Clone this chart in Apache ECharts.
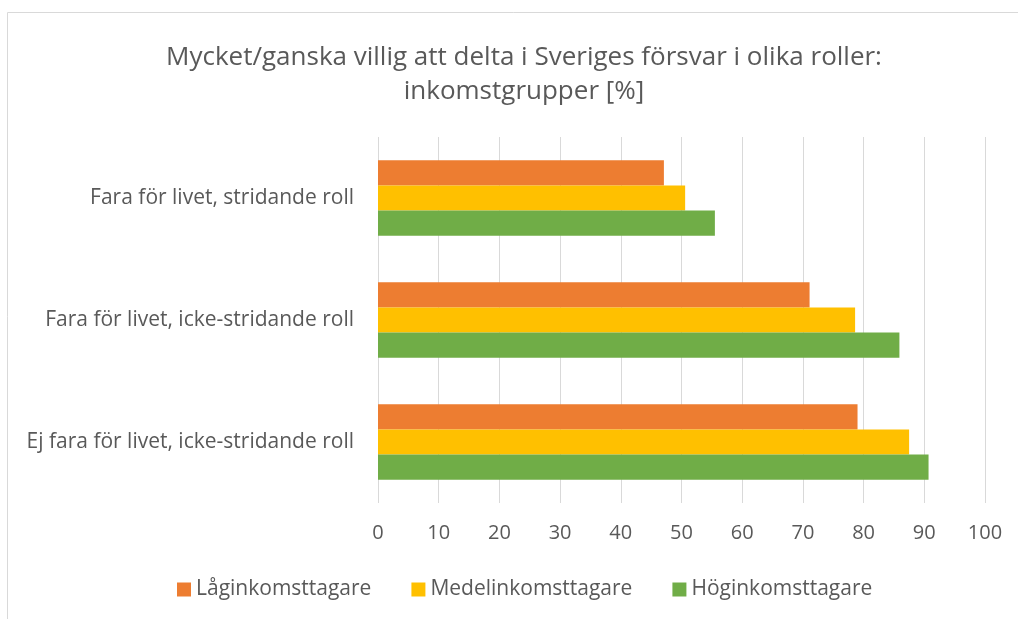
<!DOCTYPE html>
<html>
<head>
<meta charset="utf-8">
<script src="https://cdn.jsdelivr.net/npm/echarts@6/dist/echarts.min.js"></script>
<style>
  html, body { margin: 0; padding: 0; background: #fff; }
  #chart { width: 1018px; height: 619px; }
</style>
</head>
<body>
<div id="chart"></div>
<script>
  // categories listed top to bottom as in the picture
  const categories = [
    'Fara för livet, stridande roll',
    'Fara för livet, icke-stridande roll',
    'Ej fara för livet, icke-stridande roll'
  ]
  const seriesNames = ['Låginkomsttagare', 'Medelinkomsttagare', 'Höginkomsttagare']
  const lagData = [47.1, 71.1, 79.0]
  const medelData = [50.6, 78.6, 87.5]
  const hogData = [55.5, 85.9, 90.7]
  const xTicks = [0, 10, 20, 30, 40, 50, 60, 70, 80, 90, 100]

  const textColor = '#595959'
  const font = 'Open Sans'

  const chart = echarts.init(document.getElementById('chart'))
  chart.setOption({
    animation: false,
    color: ['#ED7D31', '#FFC000', '#70AD47'],
    textStyle: { fontFamily: font },
    graphic: [{
      type: 'rect',
      shape: { x: 7.5, y: 12.5, width: 1020, height: 620 },
      style: { fill: 'none', stroke: '#d9d9d9', lineWidth: 1 },
      silent: true
    }],
    title: {
      text: 'Mycket/ganska villig att delta i Sveriges försvar i olika roller:\ninkomstgrupper [%]',
      left: 519,
      textAlign: 'center',
      top: 36,
      textStyle: { color: textColor, fontSize: 26, fontWeight: 'normal', fontFamily: font, lineHeight: 34 }
    },
    legend: {
      data: seriesNames,
      top: 574,
      left: 172,
      itemWidth: 14,
      itemHeight: 14,
      itemGap: 40,
      icon: 'rect',
      textStyle: { color: textColor, fontSize: 21, fontFamily: font }
    },
    grid: {
      left: 378,
      right: 33,
      top: 137,
      bottom: 116,
      containLabel: false
    },
    xAxis: {
      type: 'value',
      min: 0,
      max: 100,
      interval: 10,
      axisLine: { show: false },
      axisTick: { show: false },
      splitLine: { lineStyle: { color: '#d9d9d9', width: 1 } },
      axisLabel: {
        color: textColor, fontSize: 20, fontFamily: font, margin: 20,
        formatter: v => xTicks.includes(v) ? String(v) : ''
      }
    },
    yAxis: {
      type: 'category',
      inverse: true,
      data: categories,
      axisLine: { show: false },
      axisTick: { show: false },
      axisLabel: { color: textColor, fontSize: 21, fontFamily: font, margin: 24 }
    },
    series: [
      { name: seriesNames[0], type: 'bar', data: lagData, barGap: '0%', barCategoryGap: '38%' },
      { name: seriesNames[1], type: 'bar', data: medelData, barGap: '0%', barCategoryGap: '38%' },
      { name: seriesNames[2], type: 'bar', data: hogData, barGap: '0%', barCategoryGap: '38%' }
    ]
  })
</script>
</body>
</html>
